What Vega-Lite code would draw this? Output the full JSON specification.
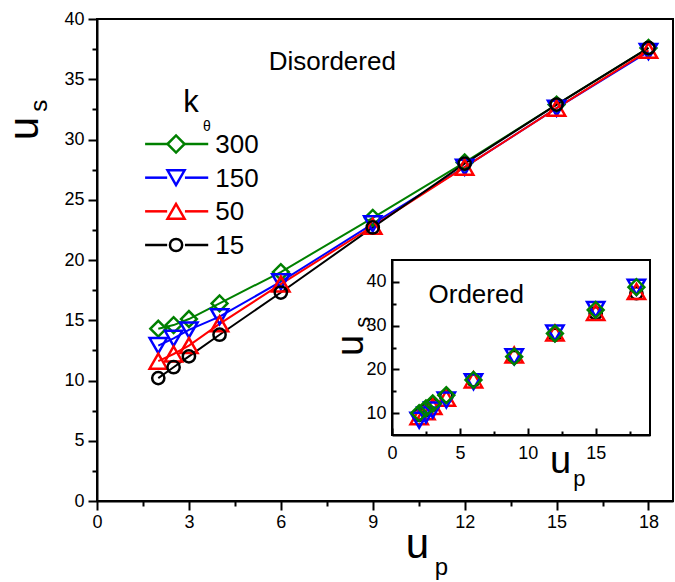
{
  "$schema": "https://vega.github.io/schema/vega-lite/v6.json",
  "width": 576,
  "height": 482,
  "autosize": {"type": "none"},
  "padding": {"left": 97, "top": 19, "right": 2, "bottom": 81},
  "background": "white",
  "config": {
    "font": "Liberation Sans",
    "view": {"stroke": "black", "strokeWidth": 2},
    "axis": {"grid": false, "domainColor": "black", "domainWidth": 2, "tickColor": "black", "tickWidth": 2, "labelColor": "black", "labelFont": "Liberation Sans", "labelFontSize": 18, "titleFont": "Liberation Sans", "titleFontWeight": "normal", "titleColor": "black", "labelFlush": false, "labelOverlap": false}
  },
  "datasets": {
    "disordered": [
      {"k": "300", "up": 2, "us": 14.3}, {"k": "300", "up": 2.5, "us": 14.6}, {"k": "300", "up": 3, "us": 15.1}, {"k": "300", "up": 4, "us": 16.4}, {"k": "300", "up": 6, "us": 19.0}, {"k": "300", "up": 9, "us": 23.5}, {"k": "300", "up": 12, "us": 28.1}, {"k": "300", "up": 15, "us": 32.9}, {"k": "300", "up": 18, "us": 37.6},
      {"k": "150", "up": 2, "us": 12.9}, {"k": "150", "up": 2.5, "us": 13.5}, {"k": "150", "up": 3, "us": 14.2}, {"k": "150", "up": 4, "us": 15.3}, {"k": "150", "up": 6, "us": 18.2}, {"k": "150", "up": 9, "us": 23.0}, {"k": "150", "up": 12, "us": 27.7}, {"k": "150", "up": 15, "us": 32.6}, {"k": "150", "up": 18, "us": 37.3},
      {"k": "50", "up": 2, "us": 11.6}, {"k": "50", "up": 2.5, "us": 12.2}, {"k": "50", "up": 3, "us": 12.9}, {"k": "50", "up": 4, "us": 14.7}, {"k": "50", "up": 6, "us": 18.0}, {"k": "50", "up": 9, "us": 22.8}, {"k": "50", "up": 12, "us": 27.7}, {"k": "50", "up": 15, "us": 32.6}, {"k": "50", "up": 18, "us": 37.4},
      {"k": "15", "up": 2, "us": 10.2}, {"k": "15", "up": 2.5, "us": 11.1}, {"k": "15", "up": 3, "us": 12.0}, {"k": "15", "up": 4, "us": 13.8}, {"k": "15", "up": 6, "us": 17.3}, {"k": "15", "up": 9, "us": 22.7}, {"k": "15", "up": 12, "us": 28.0}, {"k": "15", "up": 15, "us": 32.9}, {"k": "15", "up": 18, "us": 37.6}
    ],
    "ordered": [
      {"k": "15", "up": 2, "us": 9.6}, {"k": "15", "up": 2.5, "us": 10.7}, {"k": "15", "up": 3, "us": 11.9}, {"k": "15", "up": 4, "us": 13.8}, {"k": "15", "up": 6, "us": 17.5}, {"k": "15", "up": 9, "us": 22.8}, {"k": "15", "up": 12, "us": 27.9}, {"k": "15", "up": 15, "us": 32.8}, {"k": "15", "up": 18, "us": 37.4},
      {"k": "50", "up": 2, "us": 9.2}, {"k": "50", "up": 2.5, "us": 10.3}, {"k": "50", "up": 3, "us": 11.5}, {"k": "50", "up": 4, "us": 13.4}, {"k": "50", "up": 6, "us": 17.6}, {"k": "50", "up": 9, "us": 23.3}, {"k": "50", "up": 12, "us": 28.3}, {"k": "50", "up": 15, "us": 33.0}, {"k": "50", "up": 18, "us": 37.8},
      {"k": "150", "up": 2, "us": 8.4}, {"k": "150", "up": 2.5, "us": 9.6}, {"k": "150", "up": 3, "us": 10.7}, {"k": "150", "up": 4, "us": 13.0}, {"k": "150", "up": 6, "us": 17.2}, {"k": "150", "up": 9, "us": 22.9}, {"k": "150", "up": 12, "us": 28.3}, {"k": "150", "up": 15, "us": 33.7}, {"k": "150", "up": 18, "us": 38.8},
      {"k": "300", "up": 2, "us": 10.0}, {"k": "300", "up": 2.5, "us": 11.1}, {"k": "300", "up": 3, "us": 12.2}, {"k": "300", "up": 4, "us": 14.1}, {"k": "300", "up": 6, "us": 17.6}, {"k": "300", "up": 9, "us": 22.9}, {"k": "300", "up": 12, "us": 28.2}, {"k": "300", "up": 15, "us": 33.6}, {"k": "300", "up": 18, "us": 38.8}
    ]
  },
  "layer": [
    {
      "data": {"name": "disordered"},
      "encoding": {
        "x": {"field": "up", "type": "quantitative", "scale": {"domain": [0, 18.8], "nice": false, "zero": false},
          "axis": {"title": "u", "titleFontSize": 42, "titleX": 320, "titleY": 56, "titleAlign": "center", "titleBaseline": "alphabetic",
            "values": [0, 1.5, 3, 4.5, 6, 7.5, 9, 10.5, 12, 13.5, 15, 16.5, 18],
            "labelExpr": "datum.value % 3 === 0 ? datum.label : ''",
            "tickSize": {"condition": {"test": "datum.value % 3 !== 0", "value": 5}, "value": 9}, "labelPadding": 3}},
        "y": {"field": "us", "type": "quantitative", "scale": {"domain": [0, 40], "nice": false},
          "axis": {"title": "u", "titleFontSize": 42, "titleX": -60, "titleY": 109, "titleAlign": "center", "titleBaseline": "alphabetic", "titleAngle": 270,
            "values": [0, 2.5, 5, 7.5, 10, 12.5, 15, 17.5, 20, 22.5, 25, 27.5, 30, 32.5, 35, 37.5, 40],
            "labelExpr": "datum.value % 5 === 0 ? datum.label : ''",
            "tickSize": {"condition": {"test": "datum.value % 5 !== 0", "value": 5}, "value": 9}, "labelPadding": 4}}
      },
      "layer": [
        {"mark": {"type": "line", "strokeWidth": 2},
          "encoding": {"color": {"field": "k", "type": "nominal", "scale": {"domain": ["300", "150", "50", "15"], "range": ["#008000", "#0000FF", "#FF0000", "#000000"]}, "legend": null}}},
        {"transform": [{"filter": "datum.k === '300'"}], "mark": {"type": "point", "filled": false, "strokeWidth": 2.5, "opacity": 1, "size": 250},
          "encoding": {"color": {"field": "k", "type": "nominal", "legend": null},
            "shape": {"field": "k", "type": "nominal", "scale": {"domain": ["300", "150", "50", "15"], "range": ["diamond", "triangle-down", "triangle-up", "circle"]}, "legend": null}}},
        {"transform": [{"filter": "datum.k === '150'"}], "mark": {"type": "point", "filled": false, "strokeWidth": 2.5, "opacity": 1, "size": 300},
          "encoding": {"color": {"field": "k", "type": "nominal", "legend": null}, "shape": {"field": "k", "type": "nominal", "legend": null}}},
        {"transform": [{"filter": "datum.k === '50'"}], "mark": {"type": "point", "filled": false, "strokeWidth": 2.5, "opacity": 1, "size": 300},
          "encoding": {"color": {"field": "k", "type": "nominal", "legend": null}, "shape": {"field": "k", "type": "nominal", "legend": null}}},
        {"transform": [{"filter": "datum.k === '15'"}], "mark": {"type": "point", "filled": false, "strokeWidth": 2.5, "opacity": 1, "size": 150},
          "encoding": {"color": {"field": "k", "type": "nominal", "legend": null}, "shape": {"field": "k", "type": "nominal", "legend": null}}},
        {"transform": [{"filter": "datum.k === '15' && datum.up === 18"}], "mark": {"type": "text", "fontSize": 26, "align": "center", "baseline": "alphabetic", "color": "black"},
          "encoding": {"x": {"datum": 7.68, "type": "quantitative"}, "y": {"datum": 35.77, "type": "quantitative"}, "text": {"value": "Disordered"}}},
        {"transform": [{"filter": "datum.k === '15' && datum.up === 18"}], "mark": {"type": "text", "fontSize": 31, "align": "center", "baseline": "alphabetic", "color": "black"},
          "encoding": {"x": {"datum": 3.07, "type": "quantitative"}, "y": {"datum": 32.28, "type": "quantitative"}, "text": {"value": "k"}}},
        {"transform": [{"filter": "datum.k === '15' && datum.up === 18"}], "mark": {"type": "text", "fontSize": 14, "align": "center", "baseline": "alphabetic", "color": "black"},
          "encoding": {"x": {"datum": 3.59, "type": "quantitative"}, "y": {"datum": 30.7, "type": "quantitative"}, "text": {"value": "θ"}}},
        {"transform": [{"filter": "datum.k === '15' && datum.up === 18"}], "mark": {"type": "text", "fontSize": 24, "align": "center", "baseline": "alphabetic", "color": "black"},
          "encoding": {"x": {"datum": 11.24, "type": "quantitative"}, "y": {"datum": -6.1, "type": "quantitative"}, "text": {"value": "p"}}},
        {"transform": [{"filter": "datum.k === '15' && datum.up === 18"}], "mark": {"type": "text", "fontSize": 24, "align": "center", "baseline": "alphabetic", "angle": 270, "color": "black"},
          "encoding": {"x": {"datum": -1.63, "type": "quantitative"}, "y": {"datum": 32.8, "type": "quantitative"}, "text": {"value": "s"}}}
      ]
    },
    {
      "data": {"name": "ordered"},
      "encoding": {
        "x": {"field": "up", "type": "quantitative", "scale": {"domain": [0, 19], "range": [295, 553], "nice": false, "zero": false},
          "axis": {"orient": "bottom", "offset": -66, "zindex": 1, "title": "u", "titleFontSize": 38, "titleX": 463, "titleY": 37, "titleAlign": "center", "titleBaseline": "alphabetic",
            "values": [0, 2.5, 5, 7.5, 10, 12.5, 15, 17.5],
            "labelExpr": "datum.value % 5 === 0 ? datum.label : ''",
            "tickSize": {"condition": {"test": "datum.value % 5 !== 0", "value": -4}, "value": -7}, "labelPadding": 16}},
        "y": {"field": "us", "type": "quantitative", "scale": {"domain": [5, 45], "range": [416, 241], "nice": false, "zero": false},
          "axis": {"orient": "left", "offset": -295, "zindex": 1, "title": "u", "titleFontSize": 38, "titleX": -30, "titleY": 326, "titleAlign": "center", "titleBaseline": "alphabetic", "titleAngle": 270,
            "values": [10, 15, 20, 25, 30, 35, 40],
            "labelExpr": "datum.value % 10 === 0 ? datum.label : ''",
            "tickSize": {"condition": {"test": "datum.value % 10 !== 0", "value": -4}, "value": -7}, "labelPadding": 13}}
      },
      "layer": [
        {"transform": [{"filter": "datum.k === '15' && datum.up === 18"}], "mark": {"type": "rect", "fill": "white", "stroke": "black", "strokeWidth": 2},
          "encoding": {"x": {"datum": 0, "type": "quantitative"}, "x2": {"datum": 19}, "y": {"datum": 5, "type": "quantitative"}, "y2": {"datum": 45}}},
        {"transform": [{"filter": "datum.k === '15'"}], "mark": {"type": "point", "filled": false, "strokeWidth": 2.5, "opacity": 1, "size": 150},
          "encoding": {"color": {"field": "k", "type": "nominal", "legend": null}, "shape": {"field": "k", "type": "nominal", "legend": null}}},
        {"transform": [{"filter": "datum.k === '50'"}], "mark": {"type": "point", "filled": false, "strokeWidth": 2.5, "opacity": 1, "size": 300},
          "encoding": {"color": {"field": "k", "type": "nominal", "legend": null}, "shape": {"field": "k", "type": "nominal", "legend": null}}},
        {"transform": [{"filter": "datum.k === '150'"}], "mark": {"type": "point", "filled": false, "strokeWidth": 2.5, "opacity": 1, "size": 300},
          "encoding": {"color": {"field": "k", "type": "nominal", "legend": null}, "shape": {"field": "k", "type": "nominal", "legend": null}}},
        {"transform": [{"filter": "datum.k === '300'"}], "mark": {"type": "point", "filled": false, "strokeWidth": 2.5, "opacity": 1, "size": 250},
          "encoding": {"color": {"field": "k", "type": "nominal", "legend": null}, "shape": {"field": "k", "type": "nominal", "legend": null}}},
        {"transform": [{"filter": "datum.k === '15' && datum.up === 18"}], "mark": {"type": "text", "fontSize": 26, "align": "center", "baseline": "alphabetic", "color": "black"},
          "encoding": {"x": {"datum": 6.2, "type": "quantitative"}, "y": {"datum": 35.2, "type": "quantitative"}, "text": {"value": "Ordered"}}},
        {"transform": [{"filter": "datum.k === '15' && datum.up === 18"}], "mark": {"type": "text", "fontSize": 22, "align": "center", "baseline": "alphabetic", "color": "black"},
          "encoding": {"x": {"datum": 13.8, "type": "quantitative"}, "y": {"datum": -6.66, "type": "quantitative"}, "text": {"value": "p"}}},
        {"transform": [{"filter": "datum.k === '15' && datum.up === 18"}], "mark": {"type": "text", "fontSize": 22, "align": "center", "baseline": "alphabetic", "angle": 270, "color": "black"},
          "encoding": {"x": {"datum": -1.6, "type": "quantitative"}, "y": {"datum": 30.8, "type": "quantitative"}, "text": {"value": "s"}}}
      ]
    },
    {
      "data": {"name": "disordered"},
      "transform": [{"filter": "datum.up === 18"}],
      "encoding": {
        "x": {"datum": 0, "type": "quantitative", "scale": {"domain": [0, 18.8], "nice": false, "zero": false}, "axis": null},
        "y": {"field": "k", "type": "nominal", "scale": {"type": "point", "domain": ["300", "150", "50", "15"], "range": [125, 226], "padding": 0}, "axis": null}
      },
      "layer": [
        {"mark": {"type": "rule", "strokeWidth": 2.5},
          "encoding": {"x": {"datum": 1.57, "type": "quantitative"}, "x2": {"datum": 2.29}, "color": {"field": "k", "type": "nominal", "legend": null}}},
        {"mark": {"type": "rule", "strokeWidth": 2.5},
          "encoding": {"x": {"datum": 2.87, "type": "quantitative"}, "x2": {"datum": 3.63}, "color": {"field": "k", "type": "nominal", "legend": null}}},
        {"transform": [{"filter": "datum.k !== '15'"}], "mark": {"type": "point", "filled": false, "strokeWidth": 2.5, "opacity": 1, "size": 290},
          "encoding": {"x": {"datum": 2.58, "type": "quantitative"}, "color": {"field": "k", "type": "nominal", "legend": null}, "shape": {"field": "k", "type": "nominal", "legend": null}}},
        {"transform": [{"filter": "datum.k === '15'"}], "mark": {"type": "point", "filled": false, "strokeWidth": 2.5, "opacity": 1, "size": 150},
          "encoding": {"x": {"datum": 2.58, "type": "quantitative"}, "color": {"field": "k", "type": "nominal", "legend": null}, "shape": {"field": "k", "type": "nominal", "legend": null}}},
        {"mark": {"type": "text", "fontSize": 26, "align": "left", "baseline": "middle", "color": "black", "dy": 1},
          "encoding": {"x": {"datum": 3.86, "type": "quantitative"}, "text": {"field": "k", "type": "nominal"}}}
      ]
    }
  ],
  "resolve": {"scale": {"x": "independent", "y": "independent"}}
}
